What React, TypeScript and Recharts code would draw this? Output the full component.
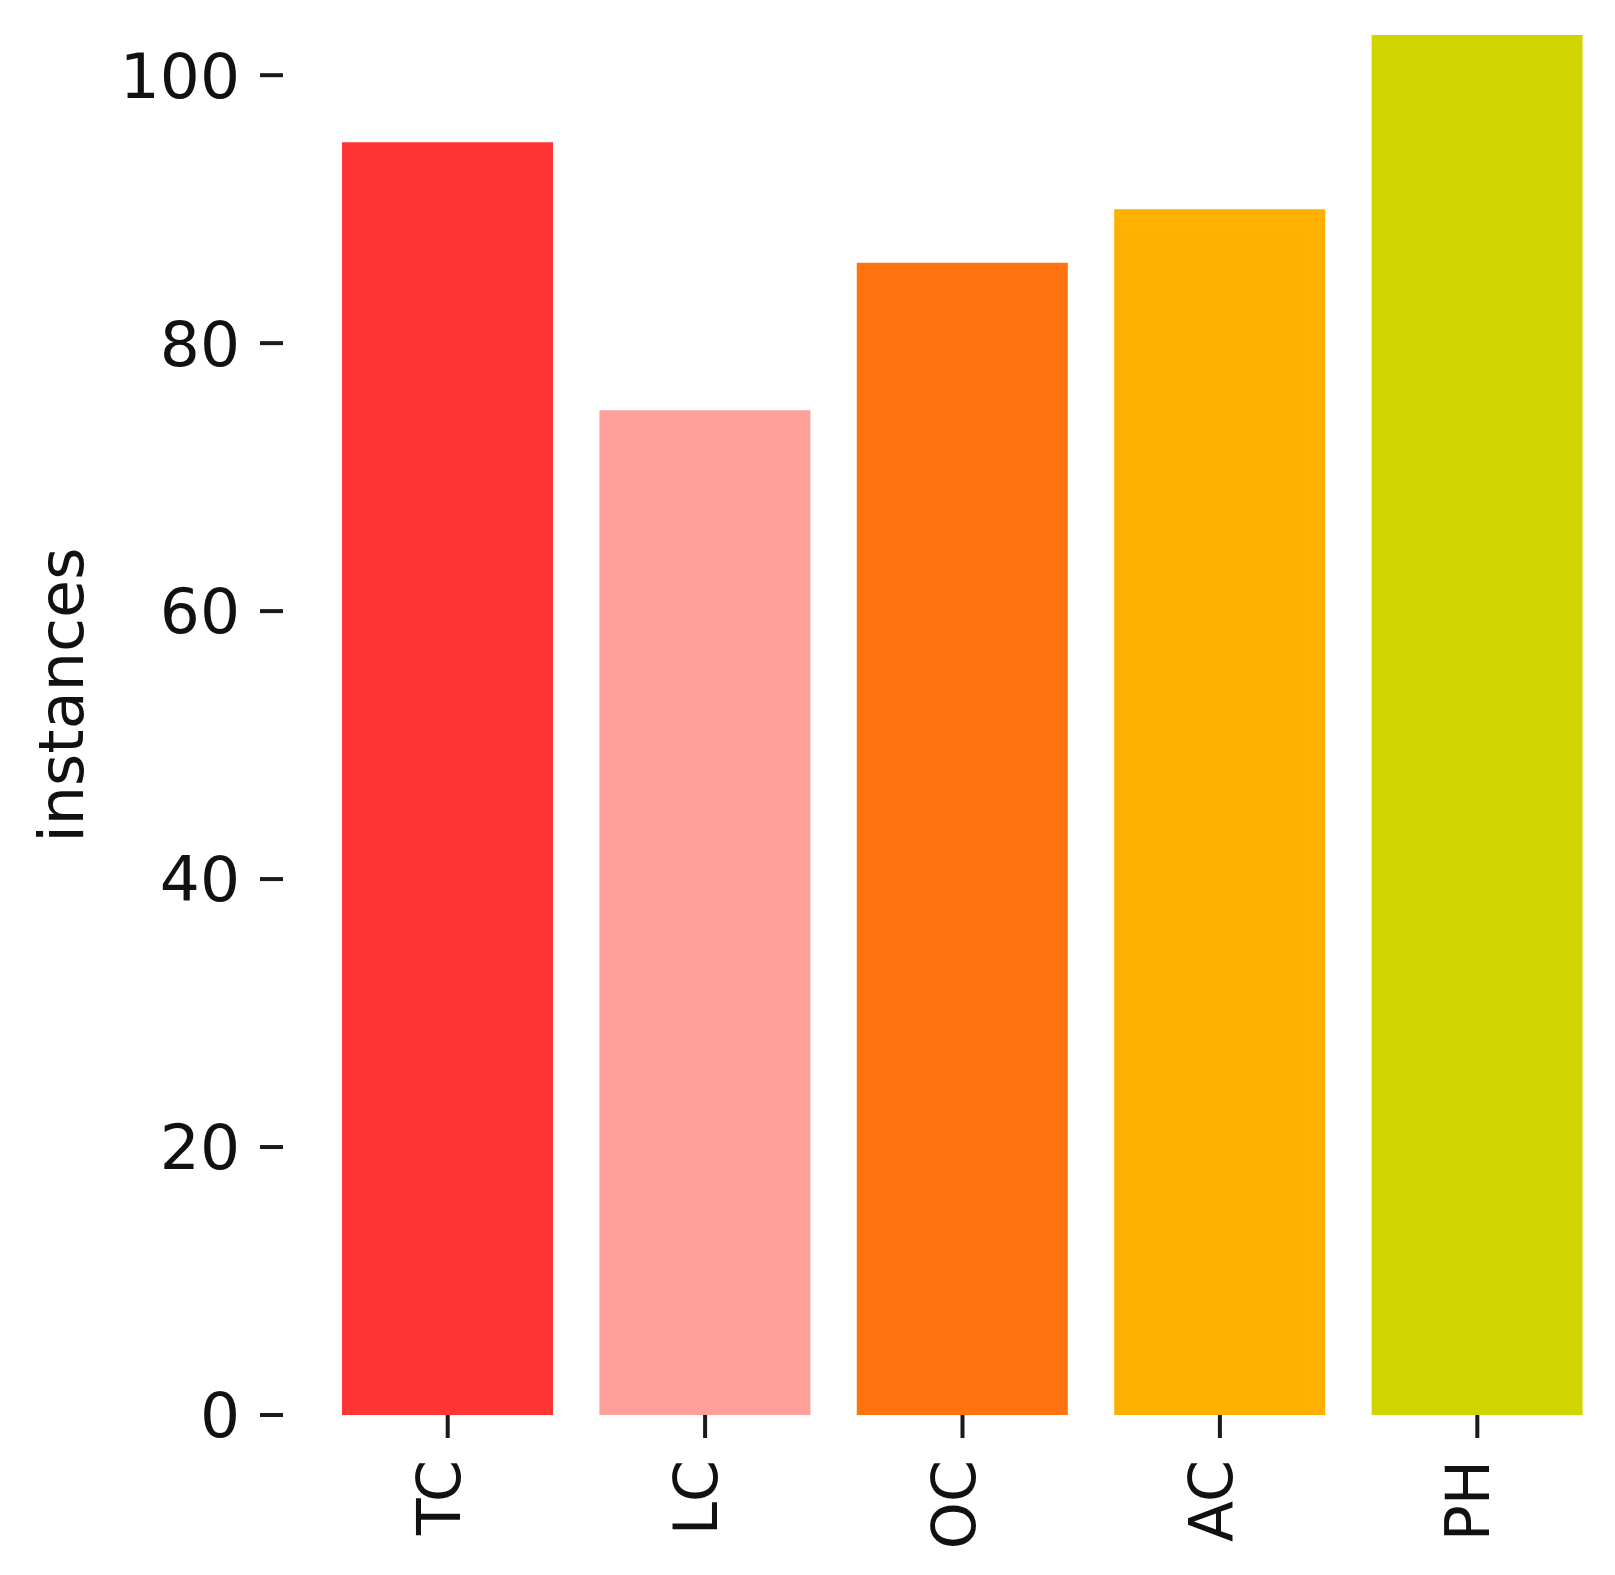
import { Bar, BarChart, Cell, XAxis, YAxis } from "recharts"

// categories and counts
const categories = ["TC", "LC", "OC", "AC", "PH"]
const instances = [95, 75, 86, 90, 103]
const barColors = ["#ff3535", "#ff9f9a", "#ff7310", "#ffb000", "#d0d400"]
const yTicks = [0, 20, 40, 60, 80, 100]

const data = categories.map((name, i) => ({ name, instances: instances[i] }))

const FONT = "DejaVu Sans"

// rotated x tick label, like matplotlib's rotation=90
const RotatedTick = (props: any) => {
  const { x, y, payload } = props
  return (
    <g transform={`translate(${x},${y})`}>
      <text
        x={0}
        y={0}
        dy="0.2em"
        transform="rotate(-90)"
        textAnchor="end"
        fontFamily={FONT}
        fontSize={60}
        fill="#111"
      >
        {payload.value}
      </text>
    </g>
  )
}

// y axis title, placed at the axes centre like matplotlib
const YTitle = (props: any) => {
  const { viewBox } = props
  const x = viewBox.x + 83
  const y = viewBox.y + viewBox.height / 2 - 30
  return (
    <text
      x={x}
      y={y}
      transform={`rotate(-90, ${x}, ${y})`}
      textAnchor="middle"
      fontFamily={FONT}
      fontSize={62}
      fill="#111"
    >
      instances
    </text>
  )
}

export default function App() {
  return (
    <div style={{ position: "absolute", left: 0, top: 0, background: "#fff" }}>
      <BarChart
        width={1615}
        height={1575}
        data={data}
        margin={{ top: 35, right: 9, left: 0, bottom: 0 }}
      >
        <XAxis
          dataKey="name"
          height={160}
          axisLine={false}
          tickSize={23}
          tickMargin={22}
          tickLine={{ stroke: "#1a1a1a", strokeWidth: 4 }}
          padding={{ left: 36, right: 0 }}
          tick={<RotatedTick />}
          interval={0}
        />
        <YAxis
          width={283}
          domain={[0, 103]}
          ticks={yTicks}
          axisLine={false}
          tickSize={23}
          tickMargin={20}
          tickLine={{ stroke: "#1a1a1a", strokeWidth: 4 }}
          tick={{ fontFamily: FONT, fontSize: 63, fill: "#111" }}
          label={<YTitle />}
        />
        <Bar dataKey="instances" barSize={211} isAnimationActive={false}>
          {data.map((d, i) => (
            <Cell key={d.name} fill={barColors[i]} />
          ))}
        </Bar>
      </BarChart>
    </div>
  )
}
